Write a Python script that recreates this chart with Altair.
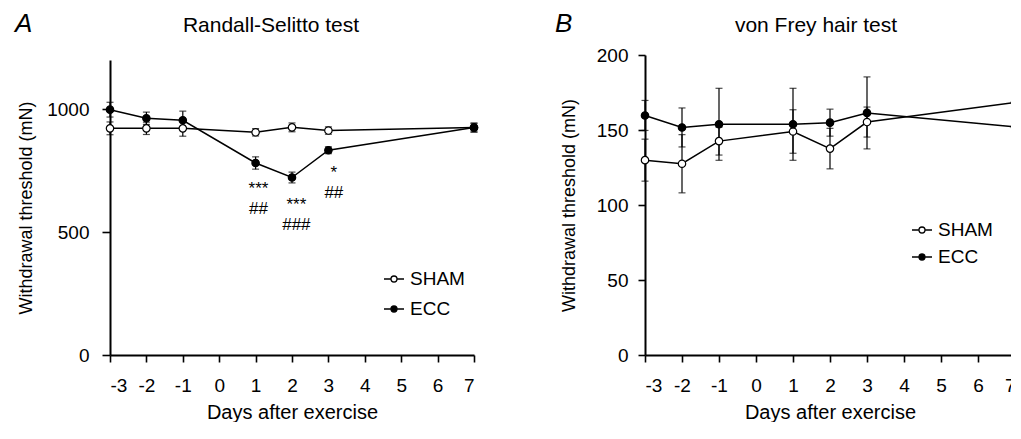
import altair as alt
import pandas as pd

FONT = "Liberation Sans"

days = [-3, -2, -1, 1, 2, 3, 7]
groups = ["SHAM", "ECC"]

# Randall-Selitto test (mN)
rs_sham = [922, 922, 922, 906, 926, 913, 925]
rs_sham_err = [26, 25, 32, 15, 18, 15, 18]
rs_ecc = [998, 963, 955, 781, 722, 833, 925]
rs_ecc_err = [30, 25, 37, 25, 22, 14, 18]

# von Frey hair test (mN)
vf_sham = [129.9, 127.5, 142.6, 149.0, 137.6, 155.3, 168.3]
vf_sham_err = [14, 19.4, 9.3, 14.5, 13.5, 10, 22]
vf_ecc = [159.7, 151.7, 153.8, 153.8, 154.9, 161.4, 152.1]
vf_ecc_err = [10, 13, 24, 24, 9, 24, 22.5]

# significance annotations (panel A): one two-line label per day
ann_lines = [["***", "##"], ["***", "###"], ["*", "##"]]
ann_x = [1.08, 2.12, 3.15]
ann_y = [655, 589, 718]

x_ticks = list(range(-3, 8))
xlabel = "Days after exercise"
ylabel = "Withdrawal threshold (mN)"

LEG_PATH = "M-1,0L-0.3,0M0.3,0L1,0M0.3,0A0.3,0.3,0,1,1,-0.3,0A0.3,0.3,0,1,1,0.3,0Z"


def make_df(sham, sham_err, ecc, ecc_err):
    rows = []
    for g, vals, errs in (("SHAM", sham, sham_err), ("ECC", ecc, ecc_err)):
        for d, v, e in zip(days, vals, errs):
            rows.append({"day": d, "value": v, "lo": v - e, "hi": v + e, "group": g})
    return pd.DataFrame(rows)


def panel(df, ydom, yrange, yticks, width, height, letter, name, lx, ly, nx, ny,
          legx, legy, rowpad, ytick, ypad, ytitlepad, ann=None):
    xs = alt.Scale(domain=[-3, 7], nice=False, zero=False)
    ys = alt.Scale(domain=ydom, range=yrange, nice=False, zero=False)
    xa = alt.Axis(values=x_ticks, title=xlabel, tickSize=7, labelPadding=14, titlePadding=7,
                  labelFontSize=19, titleFontSize=20,
                  labelExpr="datum.value < 0 ? '-' + (-datum.value) : '' + datum.value")
    ya = alt.Axis(values=yticks, title=ylabel, format="d", tickSize=ytick, labelPadding=ypad,
                  titlePadding=ytitlepad, labelFontSize=19, titleFontSize=18)
    X = alt.X("day:Q", scale=xs, axis=xa)

    base = alt.Chart(df)
    rules = base.mark_rule(color="black", strokeWidth=1.2).encode(
        x=X, y=alt.Y("lo:Q", scale=ys, axis=ya), y2="hi:Q")
    cap_lo = base.mark_tick(orient="horizontal", size=7, thickness=1.2, color="black").encode(
        x=X, y=alt.Y("lo:Q", scale=ys, axis=ya))
    cap_hi = base.mark_tick(orient="horizontal", size=7, thickness=1.2, color="black").encode(
        x=X, y=alt.Y("hi:Q", scale=ys, axis=ya))
    line = base.mark_line(color="black", strokeWidth=1.5).encode(
        x=X, y=alt.Y("value:Q", scale=ys, axis=ya), detail="group:N")
    pts = base.mark_circle(size=55, stroke="black", strokeWidth=1.2, opacity=1).encode(
        x=X, y=alt.Y("value:Q", scale=ys, axis=ya),
        color=alt.Color("group:N",
                        scale=alt.Scale(domain=groups, range=["white", "black"]),
                        legend=alt.Legend(title=None, orient="none", legendX=legx, legendY=legy,
                                          symbolType=LEG_PATH, symbolSize=400,
                                          symbolStrokeColor="black", symbolStrokeWidth=1.3,
                                          labelFont=FONT, labelFontSize=19, labelColor="black",
                                          labelOffset=5, rowPadding=rowpad)))
    lab = pd.DataFrame({"t": [letter]})
    letter_mark = alt.Chart(lab).mark_text(font=FONT, fontSize=26, fontStyle="italic",
                                           align="left", baseline="alphabetic",
                                           color="black").encode(
        text="t:N", x=alt.value(lx), y=alt.value(ly))
    nm = pd.DataFrame({"t": [name]})
    name_mark = alt.Chart(nm).mark_text(font=FONT, fontSize=21, align="center",
                                        baseline="alphabetic", color="black").encode(
        text="t:N", x=alt.value(nx), y=alt.value(ny))
    layers = [rules, cap_lo, cap_hi, line, pts, letter_mark, name_mark]
    if ann is not None:
        ann_mark = alt.Chart(ann).mark_text(font=FONT, fontSize=17, align="center",
                                            baseline="alphabetic", lineHeight=20,
                                            color="black").encode(
            x=alt.X("x:Q", scale=xs, axis=xa), y=alt.Y("y:Q", scale=ys, axis=ya), text="t")
        layers.append(ann_mark)
    return alt.layer(*layers).properties(width=width, height=height)


df_a = make_df(rs_sham, rs_sham_err, rs_ecc, rs_ecc_err)
df_b = make_df(vf_sham, vf_sham_err, vf_ecc, vf_ecc_err)
ann_df = pd.DataFrame({"x": ann_x, "y": ann_y, "t": ann_lines})

pa = panel(df_a, [0, 1200], [300, 5], [0, 500, 1000], 364, 300, "A", "Randall-Selitto test",
           -95, -23, 161, -23, 273, 213, 9, 8, 13, 11, ann=ann_df)
pb = panel(df_b, [0, 200], [300, 0], [0, 50, 100, 150, 200], 370, 300, "B",
           "von Frey hair test", -90, -23, 171, -23, 266, 164, 6, 7, 10, 18)

chart = alt.hconcat(pa, pb, spacing=74).resolve_scale(
    color="independent", x="independent", y="independent"
).resolve_legend(color="independent").configure(
    padding={"left": 7, "top": 3, "right": -11, "bottom": 0}
).configure_view(
    stroke=None
).configure_axis(
    grid=False, domainColor="black", domainWidth=2, tickColor="black", tickWidth=1.6,
    labelFont=FONT, labelColor="black",
    titleFont=FONT, titleFontWeight="normal", titleColor="black",
)

chart.save("out.html", embed_options={"renderer": "svg", "actions": False})
